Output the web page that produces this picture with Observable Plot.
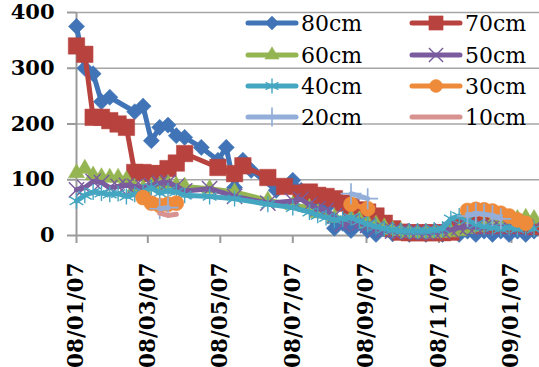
<!DOCTYPE html>
<html><head><meta charset="utf-8">
<script src="https://cdn.jsdelivr.net/npm/d3@7"></script>
<script src="https://cdn.jsdelivr.net/npm/@observablehq/plot@0.6"></script>
<style>
body{margin:0;background:#fff;}
#wrap{position:relative;width:539px;height:367px;overflow:hidden;background:#fff;}
#legend{position:absolute;left:0;top:0;pointer-events:none;}
</style></head><body><div id="wrap"></div>
<script>
const N = null;
const dates = [
 "2008-01-07","2008-01-14","2008-01-21","2008-01-28","2008-02-04","2008-02-11","2008-02-18","2008-02-25",
 "2008-03-03","2008-03-10","2008-03-17","2008-03-24","2008-03-31","2008-04-07","2008-04-14","2008-04-21",
 "2008-04-28","2008-05-05","2008-05-12","2008-05-19","2008-05-26","2008-06-02","2008-06-09","2008-06-16",
 "2008-06-23","2008-06-30","2008-07-07","2008-07-14","2008-07-21","2008-07-28","2008-08-04","2008-08-11",
 "2008-08-18","2008-08-25","2008-09-01","2008-09-08","2008-09-15","2008-09-22","2008-09-29","2008-10-06",
 "2008-10-13","2008-10-20","2008-10-27","2008-11-03","2008-11-10","2008-11-17","2008-11-24","2008-12-01",
 "2008-12-08","2008-12-15","2008-12-22","2008-12-29","2009-01-05","2009-01-12","2009-01-19","2009-01-26"
];
const s80 = [375,300,290,240,248,N,N,222, 232,170,194,198,179,176,N,158, N,135,158,86,135,117,N,N,
 81,N,99,81,68,45,50,13, 22,9,23,9,2,12,3,8, 2,7,2,7,2,7,2,8, 2,8,2,8,2,8,2,8];
const s70 = [340,325,212,212,206,200,194,113, 113,111,111,120,130,147,N,N, N,122,N,111,125,N,N,104,
 N,88,N,76,78,72,70,66, 58,52,46,42,35,22,12,6, 5,5,5,5,5,6,20,22, 20,18,20,18,20,18,18,16];
const s60 = [112,120,108,105,104,104,100,86, 84,88,90,93,90,88,N,N, 84,N,N,78,N,N,N,63,
 N,N,55,N,50,40,N,32, N,30,28,22,20,15,10,8, 5,5,4,4,5,6,8,12, 15,18,22,25,28,30,32,30];
const s50 = [82,86,97,95,86,88,90,88, 86,90,94,95,88,80,N,N, 84,N,N,70,N,N,N,58,
 N,N,62,65,55,48,45,35, 20,25,22,18,12,10,8,8, 6,6,5,6,8,10,14,16, 15,14,16,15,16,14,15,14];
const s40 = [62,72,78,76,74,75,70,74, 78,86,76,80,78,72,N,N, 70,N,N,66,N,N,N,56,
 N,N,50,N,42,36,32,28, 30,32,26,20,16,12,10,8, 8,8,8,10,12,30,35,28, 20,16,14,12,14,12,14,12];
const s30 = [N,N,N,N,N,N,N,N, 68,58,54,56,58,N,N,N, N,N,N,N,N,N,N,N,
 N,N,N,N,N,N,N,N, N,56,N,48,N,N,N,N, N,N,N,N,N,N,N,45, 47,46,44,40,35,28,22,N];
const s20 = [N,N,N,N,N,N,N,N, N,N,48,50,N,N,N,N, N,N,N,N,N,N,N,N,
 N,N,N,N,N,N,N,N, N,75,N,66,N,N,N,N, N,N,N,N,N,N,N,35, 40,38,36,30,N,N,N,N];
const s10 = [N,N,N,N,N,N,N,N, N,N,40,36,38,N,N,N, N,N,N,N,N,N,N,N,
 N,N,N,N,N,N,N,N, N,N,N,N,N,N,N,N, N,N,N,N,N,N,N,N, N,N,N,N,N,N,N,N];

const seriesNames = ["80cm","70cm","60cm","50cm","40cm","30cm","20cm","10cm"];
const seriesValues = [s80,s70,s60,s50,s40,s30,s20,s10];
const colors = ["#4174b6","#b8433e","#94b552","#7a5c9e","#45a6c1","#ee8b3b","#93afd9","#d89391"];
const xTicks = ["2008-01-07","2008-03-07","2008-05-07","2008-07-07","2008-09-07","2008-11-07","2009-01-07"];
const yTicks = [0,100,200,300,400];
const xDomain = ["2008-01-07","2009-01-30T14:00Z"];

const styles = [
  {symbol:"diamond2", r:7.3, filled:true},
  {symbol:"square", r:9.3, filled:true},
  {symbol:"triangle", r:6, filled:true},
  {symbol:"times", r:7, filled:false, sw:1.4},
  {symbol:"asterisk", r:7.5, filled:false, sw:1.4},
  {symbol:"circle", r:7.5, filled:true},
  {symbol:"plus", r:6.8, filled:false, sw:1.7},
  null
];
const legendR = [6.2, 8, 5.3, 6.5, 7, 6.5, 6.2, 0];

function rowsFor(k){
  const out = []; let seg = 0, prev = null;
  dates.forEach((d,i) => {
    const v = seriesValues[k][i];
    if (v == null) return;
    const t = new Date(d);
    if (prev && (t - prev) > 42*864e5) seg++;
    prev = t;
    out.push({date:t, value:v, seg});
  });
  return out;
}

const font = "DejaVu Serif";
const marks = [
  Plot.gridY(yTicks.slice(1), {stroke:"#a6a6a6", strokeOpacity:1, strokeWidth:1.6}),
  Plot.ruleY([0], {stroke:"#9a9a9a", strokeWidth:2}),
  Plot.ruleX([new Date(xDomain[0])], {stroke:"#9a9a9a", strokeWidth:2}),
  Plot.axisY(yTicks, {tickSize:9, tickPadding:13, stroke:"#9a9a9a", strokeWidth:2, color:"#000",
    fontSize:21, fontFamily:font, fontWeight:"bold", label:null}),
  Plot.axisX(xTicks.map(d => new Date(d)), {tickSize:8, tickPadding:19, tickRotate:-90, stroke:"#9a9a9a", strokeWidth:2,
    color:"#000", fontSize:21.5, fontFamily:font, fontWeight:"bold", tickFormat:d3.utcFormat("%y/%m/%d"), label:null})
];
seriesNames.forEach((name,k) => {
  const data = rowsFor(k);
  marks.push(Plot.line(data, {x:"date", y:"value", z:"seg", stroke:colors[k], strokeWidth:5,
    strokeLinejoin:"round", strokeLinecap:"round"}));
  const st = styles[k];
  if (st) {
    marks.push(Plot.dot(data, {x:"date", y:"value", symbol:st.symbol, r:st.r,
      fill: st.filled ? colors[k] : "none", stroke: colors[k], strokeWidth: st.filled ? 0.5 : st.sw}));
  }
});

const chart = Plot.plot({
  width:539, height:367,
  marginLeft:76, marginRight:0, marginTop:12, marginBottom:132,
  x:{type:"utc", domain:xDomain.map(d => new Date(d)), axis:null},
  y:{domain:[0,400], axis:null},
  style:{background:"white", overflow:"hidden"},
  marks
});
const wrap = document.getElementById("wrap");
wrap.appendChild(chart);

// legend
const symMap = {diamond2:d3.symbolDiamond2, square:d3.symbolSquare, triangle:d3.symbolTriangle,
  times:d3.symbolTimes, asterisk:d3.symbolAsterisk, circle:d3.symbolCircle, plus:d3.symbolPlus};
const lg = d3.select(wrap).append("svg").attr("id","legend").attr("width",539).attr("height",367);
const colX = [246, 410], rowY = [23, 55, 86, 117];
seriesNames.forEach((name,k) => {
  const x0 = colX[k % 2], y0 = rowY[Math.floor(k/2)];
  lg.append("line").attr("x1",x0+2).attr("x2",x0+50).attr("y1",y0).attr("y2",y0)
    .attr("stroke",colors[k]).attr("stroke-width",5).attr("stroke-linecap","round");
  const st = styles[k];
  if (st) {
    const r = legendR[k];
    lg.append("path").attr("transform",`translate(${x0+26},${y0})`)
      .attr("d", d3.symbol(symMap[st.symbol], Math.PI*r*r)())
      .attr("fill", st.filled ? colors[k] : "none").attr("stroke", colors[k])
      .attr("stroke-width", st.filled ? 0.5 : st.sw);
  }
  lg.append("text").attr("x",x0+55).attr("y",y0).attr("dy","0.35em")
    .attr("font-family",font).attr("font-size",22).attr("fill","#000").text(name);
});
</script></body></html>
